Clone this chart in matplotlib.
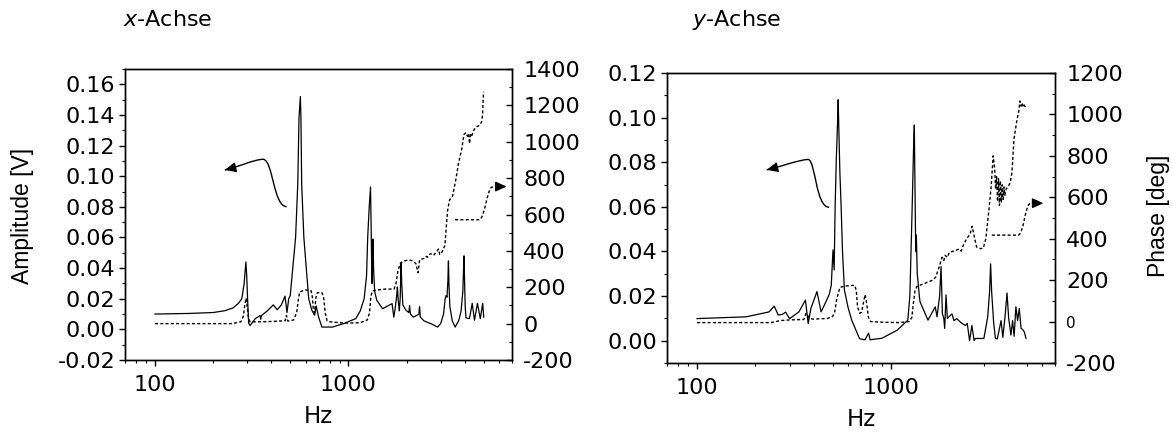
import numpy as np
import matplotlib
matplotlib.use('Agg')
import matplotlib.pyplot as plt
from matplotlib.path import Path
from matplotlib.patches import PathPatch
from matplotlib.ticker import MultipleLocator, LogLocator, FixedLocator, FixedFormatter, NullFormatter, FormatStrFormatter

plt.rcParams['font.family'] = ['DejaVu Sans']
plt.rcParams['axes.unicode_minus'] = False
plt.rcParams['mathtext.fontset'] = 'custom'
plt.rcParams['mathtext.it'] = 'DejaVu Sans:italic'
plt.rcParams['mathtext.rm'] = 'DejaVu Sans'

# ---------------- data: x-Achse ----------------
freq_x_amp = [100, 150, 200, 230, 253, 270, 281, 289, 295, 298, 301, 305, 310, 330, 349, 352, 355,
              380, 409, 428, 450, 470, 481, 491, 500, 533, 547, 555, 564, 568, 573, 588, 623, 646,
              668, 681, 701, 729, 828, 954, 1090, 1150, 1205, 1240, 1257, 1280, 1300, 1312, 1322,
              1332, 1340, 1348, 1365, 1400, 1500, 1680, 1715, 1740, 1775, 1790, 1805, 1830, 1850,
              1870, 1885, 1910, 1980, 2050, 2070, 2090, 2160, 2310, 2330, 2350, 2460, 2690, 2890,
              3000, 3100, 3160, 3190, 3230, 3265, 3286, 3305, 3340, 3440, 3560, 3720, 3820, 3900,
              3940, 3956, 3975, 4010, 4050, 4220, 4360, 4480, 4640, 4800, 4940, 5000]
amp_x = [0.0100, 0.0104, 0.0110, 0.0122, 0.0140, 0.0170, 0.0200, 0.0300, 0.0440, 0.0350, 0.0200,
         0.0040, 0.0025, 0.0070, 0.0090, 0.0065, 0.0090, 0.0120, 0.0160, 0.0128, 0.0160, 0.0217,
         0.0110, 0.0200, 0.0220, 0.0600, 0.0950, 0.1380, 0.1520, 0.1380, 0.0950, 0.0600, 0.0200,
         0.0126, 0.0093, 0.0152, 0.0080, 0.0015, 0.0015, 0.0040, 0.0070, 0.0120, 0.0200, 0.0350,
         0.0600, 0.0800, 0.0930, 0.0600, 0.0300, 0.0400, 0.0590, 0.0400, 0.0250, 0.0190, 0.0135,
         0.0168, 0.0080, 0.0130, 0.0220, 0.0277, 0.0200, 0.0120, 0.0200, 0.0430, 0.0300, 0.0160,
         0.0126, 0.0110, 0.0155, 0.0100, 0.0080, 0.0098, 0.0150, 0.0080, 0.0055, 0.0035, 0.0015,
         0.0040, 0.0100, 0.0200, 0.0220, 0.0210, 0.0320, 0.0447, 0.0300, 0.0150, 0.0055, 0.0015,
         0.0060, 0.0120, 0.0250, 0.0420, 0.0480, 0.0350, 0.0150, 0.0075, 0.0070, 0.0170, 0.0060,
         0.0170, 0.0070, 0.0170, 0.0080]

freq_x_phase = [100, 250, 278, 286, 292, 296, 300, 304, 310, 350, 400, 455, 470, 478, 485, 495, 520,
                540, 552, 560, 600, 640, 650, 658, 668, 678, 690, 730, 745, 758, 775, 800, 900,
                1000, 1150, 1250, 1285, 1305, 1330, 1400, 1550, 1720, 1760, 1800, 1860, 1950, 2050,
                2150, 2230, 2290, 2330, 2400, 2480, 2520, 2560, 2650, 2750, 2850, 2920, 2960, 3050,
                3150, 3250, 3330, 3450, 3600, 3700, 3850, 3950, 4050, 4120, 4180, 4220, 4280, 4330,
                4420, 4550, 4750, 4880, 4930, 4990]
phase_x = [0, 0, 10, 40, 110, 140, 90, 30, 10, 10, 12, 15, 15, 45, 15, 15, 20,
           60, 140, 175, 185, 182, 150, 80, 60, 140, 170, 170, 140, 60, 15, 10, 5,
           3, 5, 20, 60, 150, 180, 185, 190, 190, 220, 290, 335, 345, 350,
           345, 330, 280, 350, 355, 360, 370, 365, 385, 375, 395, 410, 380, 395,
           430, 620, 680, 700, 800, 880, 960, 1040, 1050, 1030, 1045, 990, 1040, 1030,
           1060, 1080, 1090, 1110, 1150, 1275]

# ---------------- data: y-Achse ----------------
freq_y_amp = [100, 179, 235, 250, 262, 275, 286, 300, 335, 362, 374, 386, 415, 436, 470, 481, 492,
              502, 509, 515, 522, 530, 534, 538, 545, 553, 562, 575, 600, 627, 688, 734, 766, 780,
              898, 1075, 1220, 1250, 1285, 1305, 1318, 1328, 1340, 1350, 1365, 1400, 1410, 1550,
              1690, 1725, 1780, 1810, 1840, 1870, 1890, 1920, 1950, 2060, 2110, 2180, 2300, 2420,
              2470, 2540, 2610, 2680, 2720, 3010, 3150, 3220, 3260, 3300, 3380, 3450, 3530, 3690,
              3770, 3880, 3960, 4040, 4150, 4230, 4310, 4400, 4490, 4580, 4680, 4770, 4860, 4960]
amp_y = [0.0099, 0.0107, 0.0129, 0.0155, 0.0115, 0.0118, 0.0128, 0.0099, 0.0129, 0.0182, 0.0077,
         0.0144, 0.0220, 0.0129, 0.0189, 0.0210, 0.0250, 0.0407, 0.0317, 0.0600, 0.0810, 0.0980,
         0.1080, 0.0950, 0.0750, 0.0600, 0.0400, 0.0227, 0.0150, 0.0092, 0.0009, 0.0004, 0.0034,
         0.0004, 0.0011, 0.0047, 0.0092, 0.0200, 0.0600, 0.0850, 0.0967, 0.0700, 0.0400, 0.0474,
         0.0300, 0.0197, 0.0175, 0.0092, 0.0152, 0.0107, 0.0200, 0.0332, 0.0120, 0.0100, 0.0055,
         0.0205, 0.0100, 0.0120, 0.0090, 0.0099, 0.0080, 0.0068, 0.0078, 0.0000, 0.0068, 0.0000,
         0.0010, 0.0010, 0.0107, 0.0220, 0.0344, 0.0220, 0.0080, 0.0011, 0.0008, 0.0090, 0.0015,
         0.0120, 0.0214, 0.0100, 0.0025, 0.0090, 0.0020, 0.0152, 0.0090, 0.0144, 0.0055, 0.0050,
         0.0040, 0.0011]

freq_y_phase = [100, 240, 270, 300, 355, 365, 380, 395, 470, 500, 512, 525, 545, 580, 650, 662, 672,
                690, 705, 720, 735, 748, 765, 785, 900, 1100, 1240, 1280, 1300, 1330, 1360, 1450,
                1640, 1700, 1780, 1830, 1870, 1900, 1950, 2000, 2100, 2240, 2300, 2350, 2450, 2550,
                2620, 2700, 2760, 2900, 2990, 3080, 3180, 3280, 3360, 3420, 3460, 3500, 3540, 3580,
                3620, 3660, 3700, 3740, 3780, 3820, 3860, 3920, 4000, 4110, 4200, 4300, 4450, 4560,
                4620, 4680, 4740, 4800, 4860, 4960]
phase_y = [-5, -5, 5, 8, 10, 40, 15, 12, 15, 25, 45, 110, 165, 172, 175, 150, 70,
           40, 45, 90, 130, 90, 20, 0, -3, -5, 0, 20, 80, 150, 170, 180,
           200, 215, 270, 310, 295, 320, 310, 335, 340, 350, 340, 365, 400, 420,
           460, 400, 360, 352, 355, 400, 520, 650, 800, 740, 640, 700, 580, 690,
           560, 680, 575, 660, 590, 650, 610, 640, 650, 670, 720, 880, 970, 1020,
           1065, 1040, 1055, 1035, 1045, 1030]

titles = ['$x$-Achse', '$y$-Achse']
x_ticks = [100, 1000]
x_tick_labels = ['100', '1000']

# ---------------- figure ----------------
fig = plt.figure(figsize=(11.72, 4.32), dpi=100)
axL = fig.add_axes([125 / 1172, 72 / 432, 387 / 1172, 291 / 432])
axR = fig.add_axes([667 / 1172, 69 / 432, 388 / 1172, 290 / 432])

dots = (0, (2.2, 1.6))
TICK_FS = 16


def setup(ax, fa, a, fp, p, amp_lim, amp_major, ph_lim, title_x, title):
    ax2 = ax.twinx()
    ax.plot(fa, a, color='k', lw=0.9, zorder=3)
    ax2.plot(fp, p, color='k', lw=1.0, ls=dots, zorder=3)
    ax.set_xscale('log')
    ax.set_xlim(70, 7000)
    ax.set_ylim(*amp_lim)
    ax2.set_ylim(*ph_lim)
    ax.xaxis.set_major_locator(FixedLocator(x_ticks))
    ax.xaxis.set_major_formatter(FixedFormatter(x_tick_labels))
    ax.xaxis.set_minor_locator(LogLocator(base=10, subs=np.arange(2, 10)))
    ax.xaxis.set_minor_formatter(NullFormatter())
    ax.yaxis.set_major_locator(MultipleLocator(amp_major))
    ax.yaxis.set_minor_locator(MultipleLocator(amp_major / 2))
    ax.yaxis.set_major_formatter(FormatStrFormatter('%.2f'))
    ax2.yaxis.set_major_locator(MultipleLocator(200))
    ax2.yaxis.set_minor_locator(MultipleLocator(100))
    ax.tick_params(axis='x', which='major', direction='out', length=4, width=1,
                   pad=7, labelsize=TICK_FS)
    ax.tick_params(axis='x', which='minor', direction='out', length=2.5, width=0.8)
    ax.tick_params(axis='y', which='major', direction='out', length=4, width=1,
                   pad=3, labelsize=TICK_FS)
    ax.tick_params(axis='y', which='minor', direction='out', length=2.5, width=0.8)
    ax2.tick_params(axis='y', which='major', direction='in', length=4, width=1,
                    pad=8, labelsize=TICK_FS)
    ax2.tick_params(axis='y', which='minor', direction='in', length=2.5, width=0.8)
    for s in list(ax.spines.values()) + list(ax2.spines.values()):
        s.set_linewidth(1.0)
    ax.set_xlabel('Hz', fontsize=16.5, labelpad=7)
    fig.text(title_x, 0.953, title, fontsize=16, ha='left', va='center')
    return ax2


axL2 = setup(axL, freq_x_amp, amp_x, freq_x_phase, phase_x, (-0.02, 0.17), 0.02,
             (-200, 1400), 123 / 1172, titles[0])
axR2 = setup(axR, freq_y_amp, amp_y, freq_y_phase, phase_y, (-0.01, 0.12), 0.02,
             (-200, 1200), 692 / 1172, titles[1])


# ---------------- curved arrows (axes fractions) ----------------
def solid_arrow(ax, tail, top, head):
    verts = [tail,
             (tail[0] - 0.035, tail[1]), (tail[0] - 0.035, top[1] - 0.004), top,
             (top[0] - 0.03, top[1] - 0.003), (head[0] + 0.04, head[1] + 0.012), head]
    codes = [Path.MOVETO, Path.CURVE4, Path.CURVE4, Path.CURVE4,
             Path.CURVE4, Path.CURVE4, Path.CURVE4]
    ax.add_patch(PathPatch(Path(verts, codes), transform=ax.transAxes, fill=False,
                           lw=1.0, color='k', clip_on=False))
    ax.annotate('', xy=head, xycoords='axes fraction',
                xytext=(head[0] + 0.012, head[1] + 0.004), textcoords='axes fraction',
                arrowprops=dict(arrowstyle='-|>,head_length=0.55,head_width=0.25',
                                mutation_scale=12, color='k', lw=1.0, shrinkA=0, shrinkB=0))


def dotted_arrow(ax, start, corner, top, head):
    verts = [start, corner,
             (corner[0] + 0.014, corner[1]), (top[0] - 0.012, top[1] - 0.004), top,
             (head[0] - 0.015, head[1])]
    codes = [Path.MOVETO, Path.LINETO, Path.CURVE4, Path.CURVE4, Path.CURVE4, Path.LINETO]
    ax.add_patch(PathPatch(Path(verts, codes), transform=ax.transAxes, fill=False,
                           lw=1.0, color='k', ls=dots, clip_on=False))
    ax.annotate('', xy=head, xycoords='axes fraction',
                xytext=(head[0] - 0.015, head[1]), textcoords='axes fraction',
                arrowprops=dict(arrowstyle='-|>,head_length=0.55,head_width=0.25',
                                mutation_scale=12, color='k', lw=1.0, shrinkA=0, shrinkB=0))


solid_arrow(axL2, (0.418, 0.527), (0.357, 0.690), (0.258, 0.653))
dotted_arrow(axL2, (0.853, 0.482), (0.915, 0.482), (0.948, 0.594), (0.986, 0.596))
solid_arrow(axR2, (0.418, 0.537), (0.364, 0.702), (0.257, 0.666))
dotted_arrow(axR2, (0.837, 0.441), (0.905, 0.441), (0.935, 0.549), (0.970, 0.551))

# ---------------- axis labels ----------------
fig.text(22 / 1172, 0.5, 'Amplitude [V]', rotation=90, ha='center', va='center',
         family=['Liberation Sans', 'DejaVu Sans'], fontsize=16.5)
fig.text(1158 / 1172, 0.5, 'Phase [deg]', rotation=90, ha='center', va='center',
         family=['Liberation Sans', 'DejaVu Sans'], fontsize=16.5)

fig.canvas.draw()
for t in axR2.yaxis.get_major_ticks():
    if t.label2.get_text() == '0':
        t.label2.set_fontsize(11)

fig.savefig('out.png', dpi=100)
